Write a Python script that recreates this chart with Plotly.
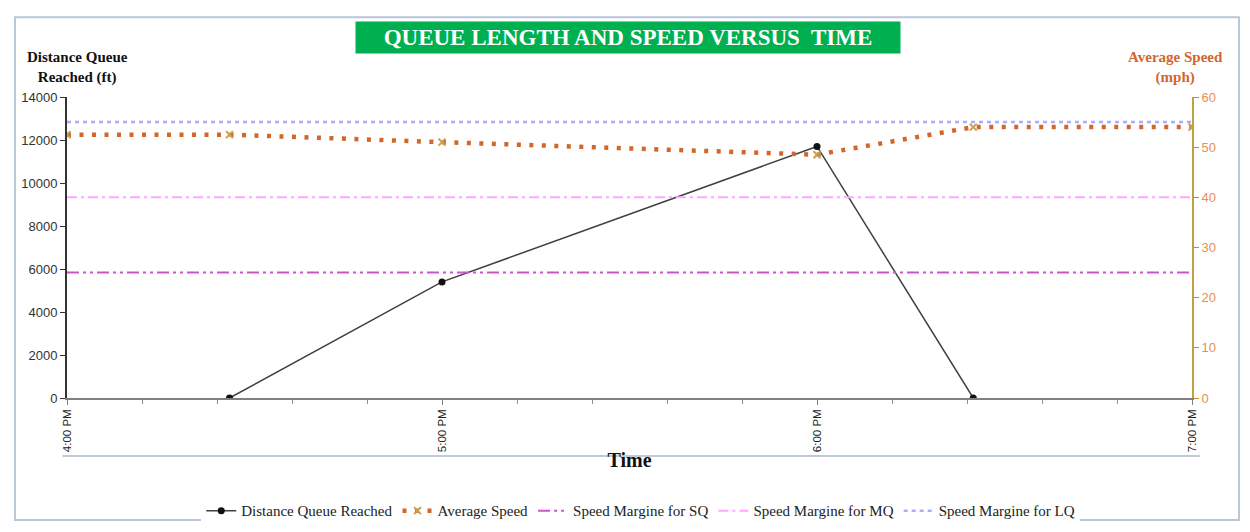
import plotly.graph_objects as go

# data
day = "2020-01-01 "
dist_times = ["16:26", "17:00", "18:00", "18:25"]
dist_ft = [0, 5400, 11700, 0]

speed_times = ["16:00", "16:26", "17:00", "18:00", "18:25", "19:00"]
speed_mph = [52.5, 52.5, 51.0, 48.5, 54.0, 54.0]

margin_times = ["16:00", "19:00"]
margin_sq = [25, 25]
margin_mq = [40, 40]
margin_lq = [55, 55]

serif = "Liberation Serif"
sans = "Liberation Sans"
orange = "#D2662B"

fig = go.Figure()

fig.add_trace(go.Scatter(
    x=[day + t for t in dist_times], y=dist_ft,
    name="Distance Queue Reached", mode="lines+markers",
    line=dict(color="#404040", width=1.5),
    marker=dict(color="#111111", size=7, symbol="circle"),
))
fig.add_trace(go.Scatter(
    x=[day + t for t in speed_times], y=speed_mph, yaxis="y2",
    name="Average Speed", mode="lines+markers",
    line=dict(color=orange, width=4.5, dash="4px,8.5px"),
    marker=dict(color="#C8A050", size=7, symbol="x-thin-open",
                line=dict(color="#C08A40", width=2)),
))
fig.add_trace(go.Scatter(
    x=[day + t for t in margin_times], y=margin_sq, yaxis="y2",
    name="Speed Margine for SQ", mode="lines",
    line=dict(color="#CC55CC", width=2, dash="12px,4px,3px,4px,3px,4px"),
))
fig.add_trace(go.Scatter(
    x=[day + t for t in margin_times], y=margin_mq, yaxis="y2",
    name="Speed Margine for MQ", mode="lines",
    line=dict(color="#FFA8FF", width=2, dash="10px,4px,3px,4px"),
))
fig.add_trace(go.Scatter(
    x=[day + t for t in margin_times], y=margin_lq, yaxis="y2",
    name="Speed Margine for LQ", mode="lines",
    line=dict(color="#AAAAFF", width=2.5, dash="4px,4px"),
))

# the page body adds an 8px offset, so margins are shifted by 8px
fig.update_layout(
    width=1250, height=532,
    margin=dict(l=59, r=66, t=89, b=142),
    paper_bgcolor="white", plot_bgcolor="white",
    font=dict(family=serif, color="#222222"),
    showlegend=True,
    legend=dict(orientation="h", x=0.51, xanchor="center", y=-0.375, yanchor="middle",
                font=dict(family=serif, size=15, color="#222222"),
                itemwidth=30, tracegroupgap=0),
    xaxis=dict(
        type="date",
        range=[day + "16:00", day + "19:00"],
        dtick=3600000, tick0=day + "16:00",
        tickformat="%-I:%M %p", tickangle=-90,
        tickfont=dict(family=sans, size=11.5, color="#222222"),
        ticks="outside", ticklen=5, tickcolor="#808080",
        minor=dict(dtick=720000, ticks="outside", ticklen=4, tickcolor="#909090"),
        showline=True, linecolor="#808080", linewidth=1.5,
        showgrid=False, zeroline=False,
        title=dict(text="<b>Time</b>", font=dict(family=serif, size=20, color="#111111"),
                   standoff=2),
    ),
    yaxis=dict(
        range=[0, 14000], dtick=2000, tickformat="d",
        tickfont=dict(family=sans, size=13, color="#333333"),
        ticks="outside", ticklen=5, tickcolor="#333333",
        showline=True, linecolor="#333333", linewidth=2,
        showgrid=False, zeroline=False,
    ),
    yaxis2=dict(
        range=[0, 60], dtick=10, overlaying="y", side="right",
        tickfont=dict(family=sans, size=13, color="#E8904F"),
        ticks="outside", ticklen=5, tickcolor="#B89030",
        showline=True, linecolor="#C0A040", linewidth=2,
        showgrid=False, zeroline=False,
    ),
    annotations=[
        dict(text="<b>QUEUE LENGTH AND SPEED VERSUS  TIME</b>", xref="paper", yref="paper",
             x=0.499, y=1.198, xanchor="center", yanchor="middle", showarrow=False,
             font=dict(family=serif, size=23, color="white"),
             bgcolor="#00B050", borderpad=3, width=538),
        dict(text="<b>Distance Queue<br>Reached (ft)</b>", xref="paper", yref="paper",
             x=0.009, y=1.03, xanchor="center", yanchor="bottom", showarrow=False,
             font=dict(family=serif, size=15, color="#111111"), align="center"),
        dict(text="<b>Average Speed<br>(mph)</b>", xref="paper", yref="paper",
             x=0.985, y=1.03, xanchor="center", yanchor="bottom", showarrow=False,
             font=dict(family=serif, size=15, color=orange), align="center"),
    ],
    shapes=[
        dict(type="rect", xref="paper", yref="paper",
             x0=-0.0462, x1=1.0418, y0=-0.405, y1=1.265,
             line=dict(color="#B8C8D8", width=2), layer="below"),
        dict(type="line", xref="paper", yref="paper",
             x0=-0.004, x1=1.007, y0=-0.193, y1=-0.193,
             line=dict(color="#A8B8C8", width=1.5)),
    ],
)

fig.write_html("out.html")
